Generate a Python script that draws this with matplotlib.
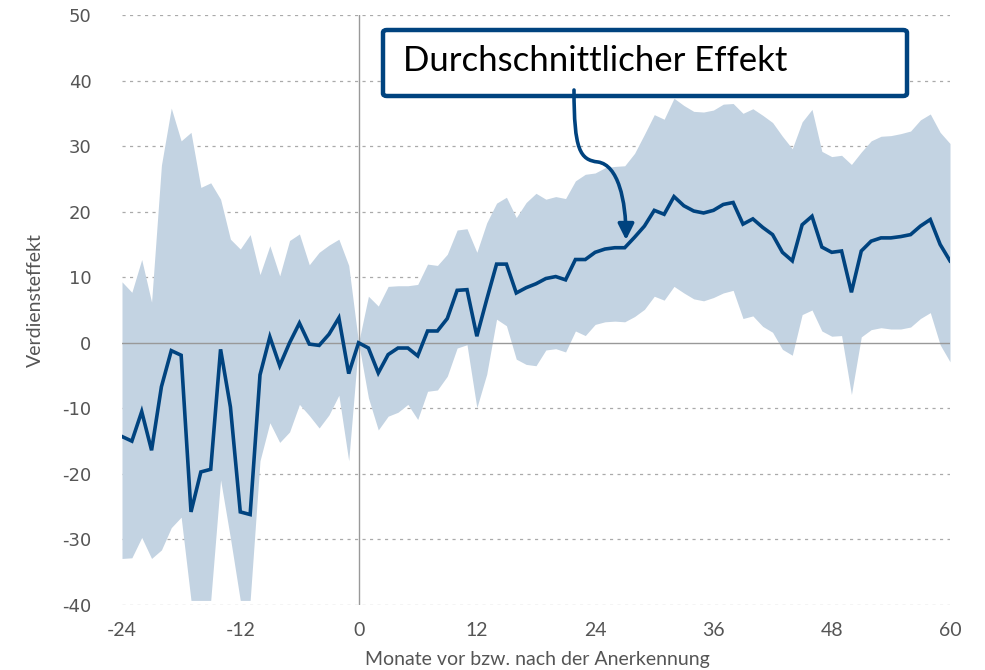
import matplotlib
matplotlib.use("Agg")
import matplotlib.pyplot as plt
from matplotlib.patches import FancyBboxPatch, FancyArrowPatch
from matplotlib.path import Path
import numpy as np

months = list(range(-24, 61))

effect = [-14.3, -15.0, -10.5, -16.4, -6.7, -1.2, -1.9, -25.8, -19.7, -19.3,
          -1.0, -9.8, -25.8, -26.2, -4.9, 0.9, -3.5, 0.0, 3.0, -0.2,
          -0.4, 1.3, 3.8, -4.7, 0.0,
          -0.8, -4.6, -1.8, -0.8, -0.8, -2.0, 1.8, 1.8, 3.7, 8.0,
          8.1, 1.0, 6.6, 12.0, 12.0, 7.6, 8.4, 9.0, 9.8, 10.1,
          9.6, 12.7, 12.7, 13.8, 14.3, 14.5, 14.5, 16.1, 17.8, 20.2,
          19.6, 22.3, 20.9, 20.1, 19.8, 20.2, 21.1, 21.4, 18.1, 18.9,
          17.6, 16.5, 13.8, 12.5, 18.0, 19.3, 14.6, 13.8, 14.0, 7.7,
          14.0, 15.5, 16.0, 16.0, 16.2, 16.5, 17.8, 18.8, 15.0, 12.5]

upper = [9.3, 7.7, 12.7, 6.2, 27.1, 35.8, 30.8, 32.1, 23.7, 24.4,
         21.9, 15.8, 14.3, 16.5, 10.4, 14.8, 10.2, 15.6, 16.6, 11.9,
         13.8, 14.9, 15.8, 11.8, 0.0,
         7.1, 5.6, 8.6, 8.7, 8.7, 8.9, 12.0, 11.8, 13.5, 17.2,
         17.4, 13.8, 18.3, 21.3, 22.2, 19.1, 21.4, 22.8, 21.9, 22.3,
         22.0, 24.7, 25.7, 25.9, 26.7, 26.9, 27.0, 28.9, 31.8, 34.8,
         34.1, 37.3, 36.2, 35.3, 35.2, 35.5, 36.4, 36.5, 35.0, 35.7,
         34.7, 33.6, 31.5, 29.6, 33.7, 35.6, 29.2, 28.4, 28.6, 27.2,
         29.1, 30.8, 31.5, 31.6, 31.9, 32.3, 34.0, 34.9, 32.1, 30.4]

lower = [-32.9, -32.8, -29.7, -32.9, -31.6, -28.2, -26.6, -39.3, -39.3, -39.3,
         -20.9, -29.8, -39.3, -39.3, -18.0, -12.2, -15.2, -13.6, -9.4, -11.1,
         -13.0, -11.0, -8.0, -18.0, 0.0,
         -8.4, -13.3, -11.2, -10.6, -9.4, -11.7, -7.4, -7.2, -5.1, -0.8,
         -0.3, -9.9, -4.8, 3.6, 2.6, -2.5, -3.3, -3.5, -1.1, -0.9,
         -1.4, 1.8, 1.1, 2.8, 3.2, 3.3, 3.2, 4.0, 5.1, 7.1,
         6.5, 8.6, 7.6, 6.7, 6.4, 6.9, 7.6, 8.0, 3.7, 4.1,
         2.5, 1.6, -1.0, -1.9, 4.3, 5.0, 1.8, 1.0, 1.1, -7.9,
         0.9, 2.0, 2.3, 2.1, 2.1, 2.4, 3.7, 4.6, -0.3, -2.9]

xticks = [-24, -12, 0, 12, 24, 36, 48, 60]
yticks = [-40, -30, -20, -10, 0, 10, 20, 30, 40, 50]

NAVY = "#00437f"
BAND = "#c3d3e2"
GRAY = "#555555"

W, H = 985, 670
fig = plt.figure(figsize=(W / 100, H / 100), dpi=100)
ax = fig.add_axes([122 / W, 1 - 605 / H, (950 - 122) / W, (605 - 15) / H])

ax.fill_between(months, lower, upper, color=BAND, linewidth=0, zorder=2)
ax.plot(months, effect, color=NAVY, linewidth=2.6, zorder=4,
        solid_joinstyle="miter")

for y in yticks:
    if y == 0:
        ax.axhline(0, color="#999999", linewidth=1.0, zorder=3)
    else:
        ax.axhline(y, color="#aaaaaa", linewidth=0.9, linestyle=(0, (2.5, 3.5)),
                   zorder=1)
ax.axvline(0, color="#999999", linewidth=1.0, zorder=3)

ax.set_xlim(-24, 60)
ax.set_ylim(-40, 50)
ax.set_xticks(xticks)
ax.set_yticks(yticks)
ax.set_yticklabels([str(t) for t in yticks], fontsize=13, color=GRAY,
                   family="DejaVu Sans")
ax.set_xticklabels([str(t) for t in xticks], fontsize=14, color=GRAY,
                   family="Lato")
ax.tick_params(axis="both", length=0)
ax.tick_params(axis="y", pad=22)
ax.tick_params(axis="x", pad=12)
for s in ax.spines.values():
    s.set_visible(False)

fig.text(35 / W, 1 - 300 / H, "Verdiensteffekt", rotation=90, ha="center",
         va="center", fontsize=14, color=GRAY, family="Lato")
fig.text(537 / W, 1 - 659 / H, "Monate vor bzw. nach der Anerkennung",
         ha="center", va="center", fontsize=14, color=GRAY, family="Lato")

# annotation box
box = FancyBboxPatch((383 / W, 1 - 96 / H), (907 - 383) / W, (96 - 30) / H,
                     boxstyle="round,pad=0,rounding_size=0.004",
                     transform=fig.transFigure, facecolor="white",
                     edgecolor=NAVY, linewidth=3.2, zorder=10)
fig.patches.append(box)
fig.text(403 / W, 1 - 61 / H, "Durchschnittlicher Effekt", ha="left",
         va="center", fontsize=25, color="black", family="Lato", zorder=11)

# curved arrow (figure pixel coords -> figure fraction)
def fp(x, y):
    return (x / W, 1 - y / H)

verts = [fp(574, 90), fp(574, 150), fp(580, 160), fp(598, 162),
         fp(618, 165), fp(626, 200), fp(626, 240)]
codes = [Path.MOVETO, Path.CURVE4, Path.CURVE4, Path.CURVE4,
         Path.CURVE4, Path.CURVE4, Path.CURVE4]
arrow = FancyArrowPatch(path=Path(verts, codes), arrowstyle="-|>",
                        mutation_scale=24, color=NAVY, linewidth=2.6,
                        transform=fig.transFigure, zorder=12)
fig.patches.append(arrow)

fig.savefig("out.png", dpi=100)
